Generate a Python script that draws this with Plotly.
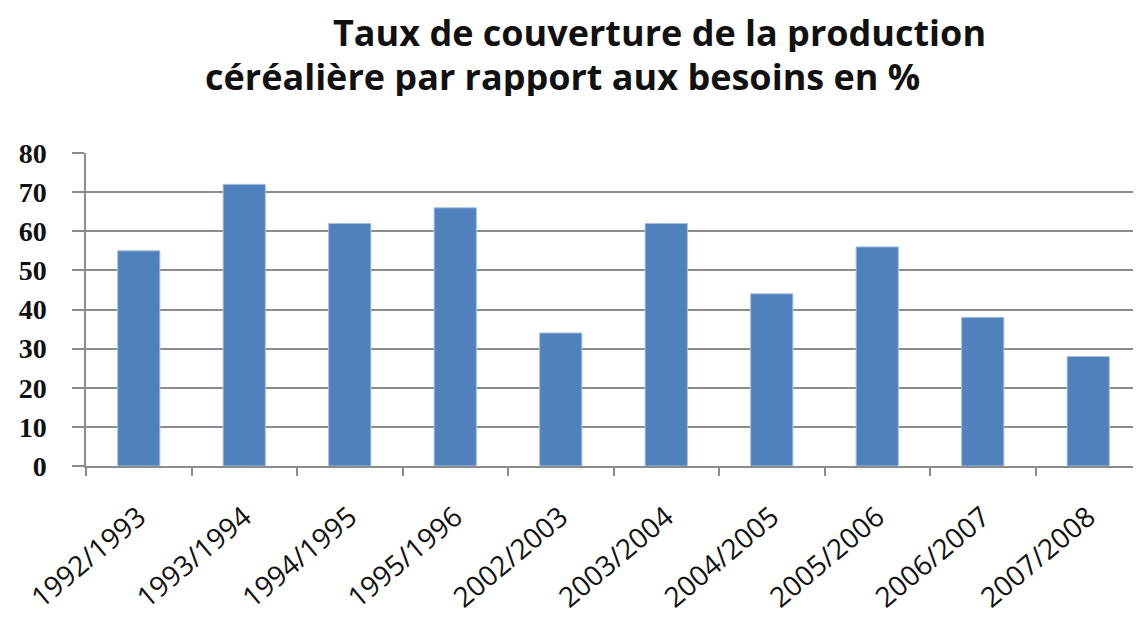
import plotly.graph_objects as go

categories = ["1992/1993", "1993/1994", "1994/1995", "1995/1996", "2002/2003",
              "2003/2004", "2004/2005", "2005/2006", "2006/2007", "2007/2008"]
values = [55, 72, 62, 66, 34, 62, 44, 56, 38, 28]
y_ticks = [0, 10, 20, 30, 40, 50, 60, 70, 80]
title_line1 = "Taux de couverture de la production"
title_line2 = "céréalière par rapport aux besoins en %"

OFF = 8  # page body margin
W, H = 1141 - OFF, 617 - OFF
L, T = 86 - OFF, 153 - OFF
B = H - (466 - OFF)
R = 0
plot_h = H - T - B


def py(p):
    """screen pixel from top -> paper y"""
    return (H - B - (p - OFF)) / plot_h


def px(p):
    """screen pixel from left -> paper x"""
    return (p - OFF - L) / (W - L - R)


fig = go.Figure()
fig.add_trace(go.Bar(
    x=categories, y=values,
    marker=dict(color="#4F81BD", line=dict(color="#A7C0DE", width=1)),
    width=0.4,
))

fig.update_layout(
    width=W, height=H,
    margin=dict(l=L, r=R, t=T, b=B, autoexpand=False),
    paper_bgcolor="white", plot_bgcolor="white",
    showlegend=False,
    annotations=[
        dict(text="<b>" + title_line1 + "</b>", xref="paper", yref="paper",
             x=px(331), y=py(32), xanchor="left", yanchor="middle",
             showarrow=False, height=40, valign="middle",
             font=dict(family="Open Sans", size=36, color="#111111")),
        dict(text="<b>" + title_line2 + "</b>", xref="paper", yref="paper",
             x=px(203), y=py(76), xanchor="left", yanchor="middle",
             showarrow=False, height=40, valign="middle",
             font=dict(family="Open Sans", size=36, color="#111111")),
    ],
)

fig.update_yaxes(
    range=[0, 80], tickmode="array", tickvals=y_ticks,
    ticktext=["<b>%d</b>" % v for v in y_ticks],
    showgrid=True, gridcolor="#8C8C8C", gridwidth=1.5,
    showline=True, linecolor="#8C8C8C", linewidth=1.5,
    ticks="outside", ticklen=12, tickcolor="#8C8C8C", tickwidth=1.5,
    ticklabelstandoff=20,
    tickfont=dict(family="Liberation Serif", size=28, color="#111111"),
    zeroline=False, automargin=False,
)
fig.update_xaxes(
    showline=True, linecolor="#8C8C8C", linewidth=1.5,
    ticks="outside", ticklen=8, tickcolor="#8C8C8C", tickwidth=1.5,
    tickson="boundaries",
    tickangle=-40, ticklabelstandoff=22,
    tickfont=dict(family="Open Sans", size=28, color="#111111"),
    automargin=False,
)

fig.write_html("out.html")
